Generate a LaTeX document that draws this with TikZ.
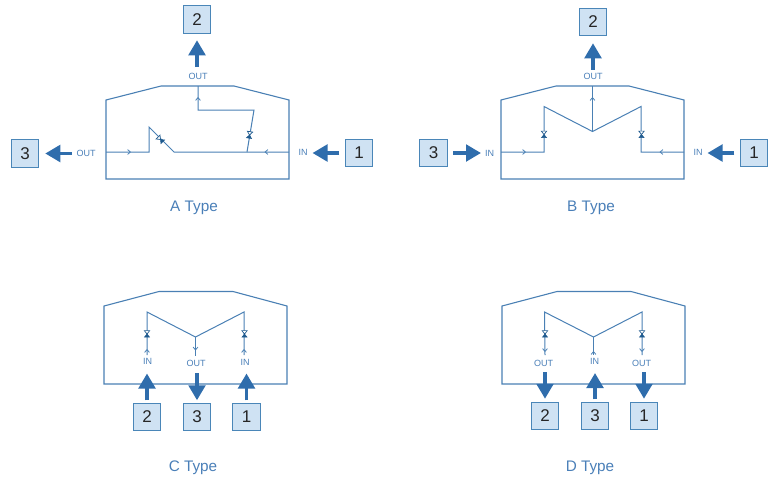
\documentclass[tikz,border=0pt]{standalone}
\usepackage{fontspec}
\setmainfont{Liberation Sans}
\usetikzlibrary{arrows.meta}
\definecolor{pipe}{HTML}{4A80B4}
\definecolor{bigblue}{HTML}{2F6DAC}
\definecolor{boxfill}{HTML}{CFE2F3}
\definecolor{boxline}{HTML}{4A86B8}
\definecolor{labeltxt}{HTML}{4A7FB8}
\definecolor{valvedark}{HTML}{1F5A8E}
\tikzset{
  pipeline/.style={draw=pipe,line width=1pt,line join=miter},
  housing/.style={draw=pipe,line width=1.1pt,line join=miter},
  numbox/.style={draw=boxline,fill=boxfill,line width=1pt,minimum size=27.5pt,inner sep=0pt,outer sep=0pt,font=\fontsize{17}{17}\selectfont,text=black!85},
  portlabel/.style={text=labeltxt,font=\fontsize{9}{9}\selectfont,inner sep=0pt},
  typelabel/.style={text=labeltxt,font=\fontsize{15.3}{16}\selectfont,inner sep=0pt},
  bigflow/.style={draw=bigblue,line width=3.6pt,-{Triangle[length=15pt,width=16.5pt]}},
  valve/.pic={
    \draw[valvedark,line width=0.7pt,fill=white] (-2.7,-3.4) -- (2.7,-3.4) -- (0,0) -- cycle;
    \fill[valvedark,draw=valvedark,line width=0.5pt] (-2.6,3.2) -- (2.6,3.2) -- (0,0) -- cycle;
  },
  chevron/.pic={
    \draw[pipe,line width=0.8pt] (-2.4,2.4) -- (0,-0.4) -- (2.4,2.4);
  }
}
\begin{document}
\begin{tikzpicture}[x=1pt,y=-1pt]
\useasboundingbox (0,0) rectangle (770,480);

% ---------- A Type
\draw[housing] (106,100) -- (161,86) -- (234,86) -- (289,100) -- (289,179) -- (106,179) -- cycle;
\draw[pipeline] (106,152) -- (149,152) -- (149,127) -- (174,152) -- (289,152);
\draw[pipeline] (247,152) -- (254,110) -- (198,110) -- (198,86);
\pic[rotate=45] at (160.5,139.5) {valve};
\pic[rotate=-9] at (249.5,135) {valve};
\pic[rotate=-90] at (130,152) {chevron};
\pic[rotate=90] at (265.5,152) {chevron};
\pic at (198,98) {chevron};
\node[numbox] (a2) at (197,19.5) {2};
\node[numbox] (a3) at (25,153.5) {3};
\node[numbox] (a1) at (359,153) {1};
\node[portlabel] (aout2) at (198,76.5) {OUT};
\node[portlabel] (aout3) at (86,153.5) {OUT};
\node[portlabel] (ain1) at (303,152.5) {IN};
\coordinate (atail2) at (197,67);
\coordinate (atail3) at (72,153.5);
\coordinate (atip1) at (312.5,153);
\draw[bigflow,shorten >=7pt] (atail2) -- (a2.south);
\draw[bigflow,shorten >=6.5pt] (atail3) -- (a3.east);
\draw[bigflow,shorten <=6pt] (a1.west) -- (atip1);
\node[typelabel] (atype) at (194,208) {A Type};

% ---------- B Type
\draw[housing] (501,100) -- (556,86) -- (629,86) -- (684,100) -- (684,179) -- (501,179) -- cycle;
\draw[pipeline] (501,152) -- (544,152) -- (544,106.5) -- (592.5,131.5) -- (641,106.5) -- (641,152) -- (684,152);
\draw[pipeline] (592.5,131.5) -- (592.5,86);
\pic at (544,134.5) {valve};
\pic at (641.5,134.5) {valve};
\pic[rotate=-90] at (525,152) {chevron};
\pic[rotate=90] at (660.5,152) {chevron};
\pic at (592.5,98) {chevron};
\node[numbox] (b2) at (593,22) {2};
\node[numbox] (b3) at (433.5,153) {3};
\node[numbox] (b1) at (754,153) {1};
\node[portlabel] (bout2) at (593,76.5) {OUT};
\node[portlabel] (bin3) at (489.5,153.5) {IN};
\node[portlabel] (bin1) at (698,152) {IN};
\coordinate (btail2) at (593,69.5);
\coordinate (btip3) at (481,153);
\coordinate (btip1) at (707.5,153);
\draw[bigflow,shorten >=7.5pt] (btail2) -- (b2.south);
\draw[bigflow,shorten <=6pt] (b3.east) -- (btip3);
\draw[bigflow,shorten <=6pt] (b1.west) -- (btip1);
\node[typelabel] (btype) at (591,208) {B Type};

% ---------- C Type
\draw[housing] (104,306) -- (159,291.5) -- (233,291.5) -- (287,306) -- (287,384) -- (104,384) -- cycle;
\draw[pipeline] (147,355) -- (147,312) -- (195.5,337) -- (244,312) -- (244,355);
\draw[pipeline] (195.5,337) -- (195.5,356);
\pic at (147,334) {valve};
\pic at (244.5,334) {valve};
\pic at (147,350) {chevron};
\pic at (244,350) {chevron};
\pic[rotate=180] at (195.5,349.5) {chevron};
\node[numbox] (c2) at (147,417) {2};
\node[numbox] (c3) at (197,417) {3};
\node[numbox] (c1) at (246.5,417) {1};
\node[portlabel] (cin2) at (147.5,361.5) {IN};
\node[portlabel] (cout3) at (196,363.5) {OUT};
\node[portlabel] (cin1) at (245,362.5) {IN};
\coordinate (ctip2) at (147,373.5);
\coordinate (ctail3) at (197,373);
\coordinate (ctip1) at (246.5,373.5);
\draw[bigflow,shorten <=3pt] (c2.north) -- (ctip2);
\draw[bigflow,shorten >=3pt] (ctail3) -- (c3.north);
\draw[bigflow,shorten <=3pt] (c1.north) -- (ctip1);
\node[typelabel] (ctype) at (193,468) {C Type};

% ---------- D Type
\draw[housing] (502,306) -- (557,291.5) -- (631,291.5) -- (685,306) -- (685,384) -- (502,384) -- cycle;
\draw[pipeline] (545,355) -- (544.5,312) -- (593.5,337) -- (642,312) -- (642,355);
\draw[pipeline] (593.5,337) -- (593.5,355);
\pic at (545,334) {valve};
\pic at (642,334) {valve};
\pic[rotate=180] at (545,351) {chevron};
\pic[rotate=180] at (642,351) {chevron};
\pic at (593.5,352) {chevron};
\node[numbox] (d2) at (545,416) {2};
\node[numbox] (d3) at (595,416) {3};
\node[numbox] (d1) at (644,416) {1};
\node[portlabel] (dout2) at (543.5,363.5) {OUT};
\node[portlabel] (din3) at (594.5,361.5) {IN};
\node[portlabel] (dout1) at (641.5,363.5) {OUT};
\coordinate (dtail2) at (545,372);
\coordinate (dtip3) at (595,373);
\coordinate (dtail1) at (644,372);
\draw[bigflow,shorten >=3.5pt] (dtail2) -- (d2.north);
\draw[bigflow,shorten <=3pt] (d3.north) -- (dtip3);
\draw[bigflow,shorten >=3.5pt] (dtail1) -- (d1.north);
\node[typelabel] (dtype) at (590,468) {D Type};
\end{tikzpicture}
\end{document}
